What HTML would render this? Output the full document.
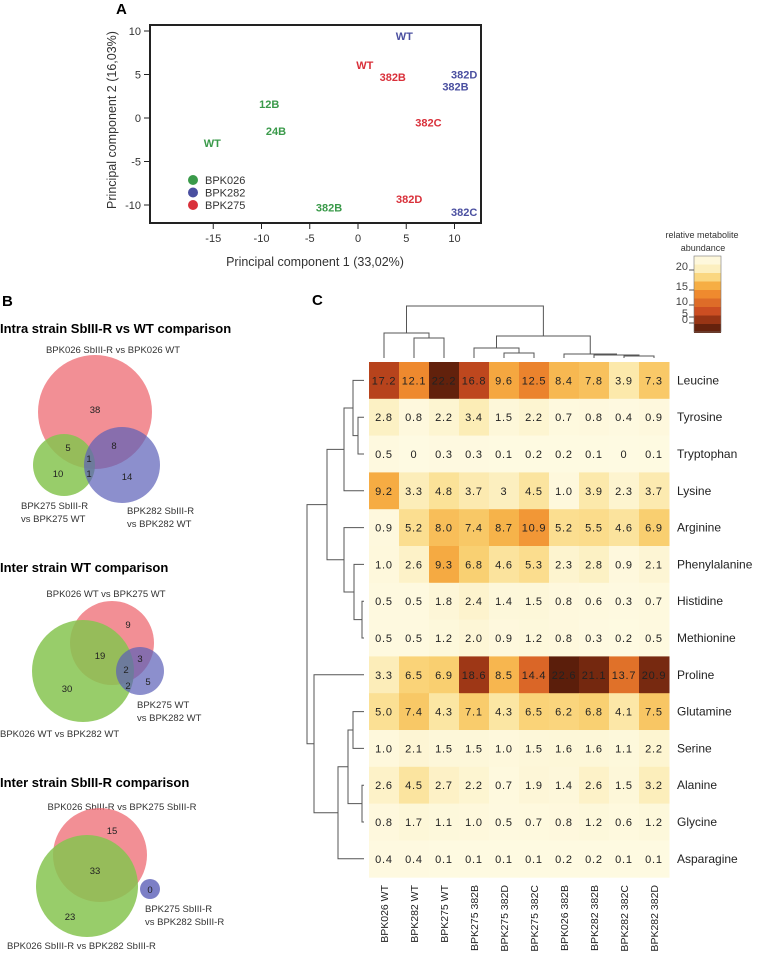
<!DOCTYPE html>
<html><head><meta charset="utf-8"><style>
html,body{margin:0;padding:0;background:#fff;}
svg{display:block;font-family:"Liberation Sans",Arial,sans-serif;}
</style></head><body>
<svg id="fig" width="760" height="956" viewBox="0 0 760 956" xmlns="http://www.w3.org/2000/svg">
<text x="116" y="14" font-size="15" font-weight="bold">A</text>
<g id="pca"></g>
<g>
<text x="2" y="306" font-size="15" font-weight="bold">B</text>
<text x="0" y="333" font-size="13" font-weight="bold">Intra strain SbIII-R vs WT comparison</text>
<text x="113" y="353" font-size="9.5" fill="#333" text-anchor="middle">BPK026 SbIII-R vs BPK026 WT</text>
<circle cx="95" cy="412" r="57" fill="#ee6a72" fill-opacity="0.75"/>
<circle cx="64" cy="465" r="31" fill="#86c450" fill-opacity="0.85"/>
<circle cx="122" cy="465" r="38" fill="#5b5fb8" fill-opacity="0.7"/>
<g font-size="9.5" fill="#222" text-anchor="middle">
<text x="95" y="413">38</text><text x="68" y="451">5</text><text x="114" y="449">8</text><text x="89" y="462">1</text><text x="89" y="477">1</text><text x="58" y="477">10</text><text x="127" y="480">14</text>
</g>
<g font-size="9.5" fill="#333">
<text x="21" y="509">BPK275 SbIII-R</text><text x="21" y="522">vs BPK275 WT</text>
<text x="127" y="514">BPK282 SbIII-R</text><text x="127" y="527">vs BPK282 WT</text>
</g>
<text x="0" y="572" font-size="13" font-weight="bold">Inter strain WT comparison</text>
<text x="106" y="597" font-size="9.5" fill="#333" text-anchor="middle">BPK026 WT vs BPK275 WT</text>
<circle cx="112" cy="643" r="42" fill="#ee6a72" fill-opacity="0.75"/>
<circle cx="83" cy="671" r="51" fill="#86c450" fill-opacity="0.85"/>
<circle cx="140" cy="671" r="24" fill="#5b5fb8" fill-opacity="0.7"/>
<g font-size="9.5" fill="#222" text-anchor="middle">
<text x="128" y="628">9</text><text x="100" y="659">19</text><text x="140" y="662">3</text><text x="126" y="673">2</text><text x="128" y="689">2</text><text x="148" y="685">5</text><text x="67" y="692">30</text>
</g>
<g font-size="9.5" fill="#333">
<text x="137" y="708">BPK275 WT</text><text x="137" y="721">vs BPK282 WT</text>
<text x="0" y="737">BPK026 WT vs BPK282 WT</text>
</g>
<text x="0" y="787" font-size="13" font-weight="bold">Inter strain SbIII-R comparison</text>
<text x="122" y="810" font-size="9.5" fill="#333" text-anchor="middle">BPK026 SbIII-R vs BPK275 SbIII-R</text>
<circle cx="100" cy="855" r="47" fill="#ee6a72" fill-opacity="0.75"/>
<circle cx="87" cy="886" r="51" fill="#86c450" fill-opacity="0.85"/>
<circle cx="150" cy="889" r="10" fill="#5b5fb8" fill-opacity="0.8"/>
<g font-size="9.5" fill="#222" text-anchor="middle">
<text x="112" y="834">15</text><text x="95" y="874">33</text><text x="70" y="920">23</text><text x="150" y="893">0</text>
</g>
<g font-size="9.5" fill="#333">
<text x="145" y="912">BPK275 SbIII-R</text><text x="145" y="925">vs BPK282 SbIII-R</text>
<text x="7" y="949">BPK026 SbIII-R vs BPK282 SbIII-R</text>
</g>
</g>
<text x="312" y="305" font-size="15" font-weight="bold">C</text>
<g id="heat"></g>
</svg>
<script>
const pcaLabels = ["WT","12B","24B","382B","WT","382D","382B","382C","WT","382B","382C","382D"];
const pcaStrain = ["BPK026","BPK026","BPK026","BPK026","BPK282","BPK282","BPK282","BPK282","BPK275","BPK275","BPK275","BPK275"];
const pcaX = [-15.1,-9.2,-8.5,-3.0,4.8,11.0,10.1,11.0,0.7,3.6,7.3,5.3];
const pcaY = [-2.9,1.6,-1.5,-10.3,9.4,5.0,3.6,-10.8,6.1,4.7,-0.5,-9.3];
const pcaXTicks = [-15,-10,-5,0,5,10];
const pcaYTicks = [10,5,0,-5,-10];
const legendStrains = ["BPK026","BPK282","BPK275"];

const heatCols = ["BPK026 WT","BPK282 WT","BPK275 WT","BPK275 382B","BPK275 382D","BPK275 382C","BPK026 382B","BPK282 382B","BPK282 382C","BPK282 382D"];
const heatRows = ["Leucine","Tyrosine","Tryptophan","Lysine","Arginine","Phenylalanine","Histidine","Methionine","Proline","Glutamine","Serine","Alanine","Glycine","Asparagine"];
const heatVals = [
[17.2,12.1,22.2,16.8,9.6,12.5,8.4,7.8,3.9,7.3],
[2.8,0.8,2.2,3.4,1.5,2.2,0.7,0.8,0.4,0.9],
[0.5,0,0.3,0.3,0.1,0.2,0.2,0.1,0,0.1],
[9.2,3.3,4.8,3.7,3,4.5,1.0,3.9,2.3,3.7],
[0.9,5.2,8.0,7.4,8.7,10.9,5.2,5.5,4.6,6.9],
[1.0,2.6,9.3,6.8,4.6,5.3,2.3,2.8,0.9,2.1],
[0.5,0.5,1.8,2.4,1.4,1.5,0.8,0.6,0.3,0.7],
[0.5,0.5,1.2,2.0,0.9,1.2,0.8,0.3,0.2,0.5],
[3.3,6.5,6.9,18.6,8.5,14.4,22.6,21.1,13.7,20.9],
[5.0,7.4,4.3,7.1,4.3,6.5,6.2,6.8,4.1,7.5],
[1.0,2.1,1.5,1.5,1.0,1.5,1.6,1.6,1.1,2.2],
[2.6,4.5,2.7,2.2,0.7,1.9,1.4,2.6,1.5,3.2],
[0.8,1.7,1.1,1.0,0.5,0.7,0.8,1.2,0.6,1.2],
[0.4,0.4,0.1,0.1,0.1,0.1,0.2,0.2,0.1,0.1]];
const heatLabelsText = [
["17.2","12.1","22.2","16.8","9.6","12.5","8.4","7.8","3.9","7.3"],
["2.8","0.8","2.2","3.4","1.5","2.2","0.7","0.8","0.4","0.9"],
["0.5","0","0.3","0.3","0.1","0.2","0.2","0.1","0","0.1"],
["9.2","3.3","4.8","3.7","3","4.5","1.0","3.9","2.3","3.7"],
["0.9","5.2","8.0","7.4","8.7","10.9","5.2","5.5","4.6","6.9"],
["1.0","2.6","9.3","6.8","4.6","5.3","2.3","2.8","0.9","2.1"],
["0.5","0.5","1.8","2.4","1.4","1.5","0.8","0.6","0.3","0.7"],
["0.5","0.5","1.2","2.0","0.9","1.2","0.8","0.3","0.2","0.5"],
["3.3","6.5","6.9","18.6","8.5","14.4","22.6","21.1","13.7","20.9"],
["5.0","7.4","4.3","7.1","4.3","6.5","6.2","6.8","4.1","7.5"],
["1.0","2.1","1.5","1.5","1.0","1.5","1.6","1.6","1.1","2.2"],
["2.6","4.5","2.7","2.2","0.7","1.9","1.4","2.6","1.5","3.2"],
["0.8","1.7","1.1","1.0","0.5","0.7","0.8","1.2","0.6","1.2"],
["0.4","0.4","0.1","0.1","0.1","0.1","0.2","0.2","0.1","0.1"]];
const legendTicks = [20,15,10,5,0];

const NS="http://www.w3.org/2000/svg";
function mk(tag,attrs,parent,txt){const e=document.createElementNS(NS,tag);for(const k in attrs)e.setAttribute(k,attrs[k]);if(txt!==undefined)e.textContent=txt;parent.appendChild(e);return e;}
const colorOf={BPK026:"#3a9a4a",BPK282:"#4a4fa0",BPK275:"#d9303a"};

const pca=document.getElementById('pca');
const sx=v=>358+v*9.65, sy=v=>118-v*8.7;
const box=mk('rect',{x:150,y:25,width:331,height:198,fill:"none",stroke:"#222","stroke-width":2},pca);


pcaXTicks.forEach(t=>{mk('line',{x1:sx(t),x2:sx(t),y1:224,y2:229,stroke:"#222"},pca);
 const tl=mk('text',{x:sx(t),y:242,"font-size":11,"text-anchor":"middle",fill:"#333"},pca,String(t));
 
 });
pcaYTicks.forEach(t=>{mk('line',{x1:144,x2:149,y1:sy(t),y2:sy(t),stroke:"#222"},pca);
 const tl=mk('text',{x:141,y:sy(t)+4,"font-size":11,"text-anchor":"end",fill:"#333"},pca,String(t));
 
 });
const xt=mk('text',{x:315,y:266,"font-size":12.5,"text-anchor":"middle",fill:"#333"},pca,"Principal component 1 (33,02%)");


const yt=mk('text',{x:0,y:0,"font-size":12.5,"text-anchor":"middle",fill:"#333",transform:"translate(116,120) rotate(-90)"},pca,"Principal component 2 (16,03%)");


pcaLabels.forEach((l,i)=>{const t=mk('text',{x:sx(pcaX[i]),y:sy(pcaY[i])+4,"font-size":11,"font-weight":"bold","text-anchor":"middle",fill:colorOf[pcaStrain[i]]},pca,l);
 
 });
legendStrains.forEach((s,i)=>{const c=mk('circle',{cx:193,cy:180+i*12.5,r:5,fill:colorOf[s]},pca);
 
 
 const t=mk('text',{x:205,y:184+i*12.5,"font-size":11,fill:"#333"},pca,s);
 
 });

const heat=document.getElementById('heat');
const X0=369,Y0=362,CW=30,CH=36.8;
const stops=[[0,[254,250,226]],[2,[253,246,214]],[3.5,[252,236,180]],[5,[251,224,148]],[7,[249,206,110]],[9,[246,174,68]],[12,[239,138,46]],[16,[204,78,34]],[18.5,[160,56,22]],[23,[84,28,10]]];
function col(v){for(let i=1;i<stops.length;i++){if(v<=stops[i][0]){const a=stops[i-1],b=stops[i],f=(v-a[0])/(b[0]-a[0]);return "rgb("+a[1].map((c,k)=>Math.round(c+(b[1][k]-c)*f)).join(",")+")";}}return "rgb(84,28,10)";}
heatVals.forEach((row,r)=>{row.forEach((v,c)=>{
 const rc=mk('rect',{x:X0+c*CW,y:Y0+r*CH,width:CW+0.5,height:CH+0.5,fill:col(v)},heat);
 
 
 const t=mk('text',{x:X0+c*CW+CW/2,y:Y0+r*CH+CH/2+4,"font-size":11,"text-anchor":"middle",fill:"#222","letter-spacing":"0.8"},heat,heatLabelsText[r][c]);
 
 });
 const rl=mk('text',{x:677,y:Y0+r*CH+CH/2+4,"font-size":12,fill:"#222"},heat,heatRows[r]);
 
 });
heatCols.forEach((c,i)=>{const x=X0+i*CW+CW/2+4;
 const t=mk('text',{x:0,y:0,"font-size":10.5,"text-anchor":"end",fill:"#222",transform:`translate(${x},885) rotate(-90)`},heat,c);
 
 });
const dg=mk('g',{stroke:"#555","stroke-width":1,fill:"none"},heat);


function cx(i){return X0+i*CW+CW/2;}
function ry(i){return Y0+i*CH+CH/2;}
function joinTop(a,b,h){mk('path',{d:`M${a[0]},${a[1]}V${h}H${b[0]}V${b[1]}`},dg);return [(a[0]+b[0])/2,h];}
const leafC=i=>[cx(i),358];
let c12=joinTop(leafC(1),leafC(2),338), g1=joinTop(leafC(0),c12,333);
let c45=joinTop(leafC(4),leafC(5),353), g2=joinTop(leafC(3),c45,348);
let c89=joinTop(leafC(8),leafC(9),356), c789=joinTop(leafC(7),c89,355), g3=joinTop(leafC(6),c789,354);
let g23=joinTop(g2,g3,336); joinTop(g1,g23,306);
function joinSide(a,b,x){mk('path',{d:`M${a[1]},${a[0]}H${x}V${b[0]}H${b[1]}`},dg);return [(a[0]+b[0])/2,x];}
const leafR=i=>[ry(i),364];
let r12=joinSide(leafR(1),leafR(2),358), r012=joinSide(leafR(0),r12,353), rA=joinSide(r012,leafR(3),344);
let r67=joinSide(leafR(6),leafR(7),362), r567=joinSide(leafR(5),r67,354), rB=joinSide(leafR(4),r567,344);
let rAB=joinSide(rA,rB,327);
let r1112=joinSide(leafR(11),leafR(12),362), r910=joinSide(leafR(9),leafR(10),353), rC=joinSide(r910,r1112,348);
let rC13=joinSide(rC,leafR(13),338), rD=joinSide(leafR(8),rC13,314);
joinSide(rAB,rD,307);
const lg=mk('g',{},heat);


mk('text',{x:702,y:238,"font-size":9,"text-anchor":"middle",fill:"#333"},lg,"relative metabolite");
mk('text',{x:703,y:251,"font-size":9,"text-anchor":"middle",fill:"#333"},lg,"abundance");
const lv=[1,3,6,9,12,14,16,19,22];
lv.forEach((v,i)=>{mk('rect',{x:694,y:256+i*8.5,width:27,height:9,fill:col(v)},lg);});
mk('rect',{x:694,y:256,width:27,height:76,fill:"none",stroke:"#777","stroke-width":0.6},lg);
const tickPos={20:270,15:290,10:305,5:317,0:323};
legendTicks.forEach(t=>{const y=tickPos[t];
 mk('line',{x1:689,x2:694,y1:y,y2:y,stroke:"#555"},lg);
 mk('text',{x:688,y:y,"font-size":11,"text-anchor":"end",fill:"#444"},lg,String(t));});
</script>
</body></html>
